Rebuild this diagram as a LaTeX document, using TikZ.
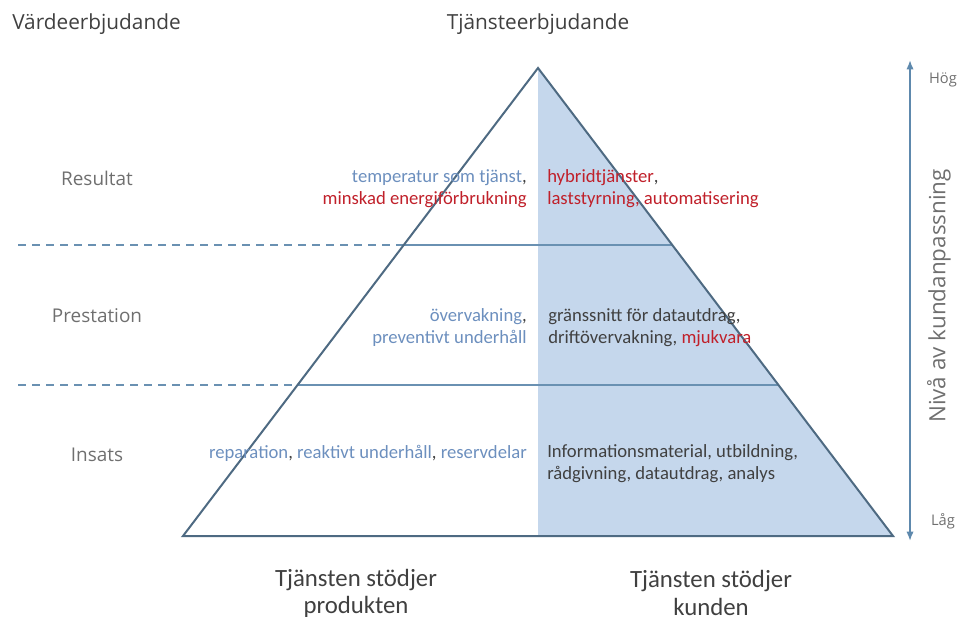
\documentclass[tikz,border=0pt]{standalone}
\usepackage{fontspec}
\setmainfont{Carlito}
\newfontfamily\headfont{Open Sans}
\usetikzlibrary{arrows.meta}
\definecolor{dgray}{HTML}{404040}
\definecolor{lgray}{HTML}{6F6F6F}
\definecolor{tblue}{HTML}{6C8FBE}
\definecolor{tred}{HTML}{C0202A}
\definecolor{fillblue}{HTML}{C5D7EC}
\definecolor{edge}{HTML}{4E6A82}
\definecolor{lineblue}{HTML}{6A91B2}
\definecolor{arrowblue}{HTML}{5E89AD}
\tikzset{
  head/.style={font=\headfont\fontsize{15.6}{18}\selectfont, text=dgray, inner sep=0pt},
  lvl/.style={font=\headfont\fontsize{14.2}{16}\selectfont, text=lgray, inner sep=0pt},
  axislbl/.style={font=\headfont\fontsize{11}{13}\selectfont, text=lgray, inner sep=0pt},
  rotlbl/.style={font=\headfont\fontsize{16.8}{19}\selectfont, text=lgray, inner sep=0pt},
  inner/.style={font=\fontsize{14}{16.5}\selectfont, text=dgray, inner sep=0pt},
  bottom/.style={font=\fontsize{18.6}{20.3}\selectfont, text=dgray, inner sep=0pt, align=center},
  tri/.style={draw=edge, line width=1.5pt, line join=miter},
  band/.style={draw=lineblue, line width=1.8pt},
  dashline/.style={draw=lineblue, line width=1.4pt, dash pattern=on 6pt off 4.5pt},
}
\newcommand{\bl}[1]{\textcolor{tblue}{#1}}
\newcommand{\rd}[1]{\textcolor{tred}{#1}}
\begin{document}
\begin{tikzpicture}[x=0.75pt,y=-0.75pt]
\useasboundingbox (0,0) rectangle (959,621);
% triangle corners
\coordinate (apex) at (538,68);
\coordinate (bl) at (183,536);
\coordinate (br) at (893,536);
\coordinate (bm) at (538,536);
% fill right half
\fill[fillblue] (apex) -- (br) -- (bm) -- cycle;
% band lines
\coordinate (l1) at (403.7,245);
\coordinate (r1) at (672.3,245);
\coordinate (l2) at (297.6,385);
\coordinate (r2) at (778.4,385);
\coordinate (d1) at (18,245);
\coordinate (d2) at (18,385);
\draw[band] (l1) -- (r1);
\draw[band] (l2) -- (r2);
\draw[dashline] (d1) -- (l1);
\draw[dashline] (d2) -- (l2);
\draw[tri] (apex) -- (br) -- (bl) -- cycle;
% axis arrow
\coordinate (atop) at (910,60);
\coordinate (abot) at (910,541);
\draw[arrowblue, line width=1.3pt, {Latex[length=7pt,width=5.5pt]}-{Latex[length=7pt,width=5.5pt]}] (abot) -- (atop);
\node[axislbl] (hog) at (943,80) {Hög};
\node[axislbl] (lag) at (943,521) {Låg};
\node[rotlbl, rotate=90] (niva) at (939,296) {Nivå av kundanpassning};
% headers
\node[head, anchor=west] (varde) at (12,24) {Värdeerbjudande};
\node[head] (tjanst) at (538,24) {Tjänsteerbjudande};
% level labels
\node[lvl] (res) at (97,178) {Resultat};
\node[lvl] (pre) at (97,316) {Prestation};
\node[lvl] (ins) at (97,455) {Insats};
% inner texts
\node[inner, anchor=east, align=right] (t1l) at (527,189) {\bl{temperatur som tjänst},\\\rd{minskad energiförbrukning}};
\node[inner, anchor=west, align=left] (t1r) at (547,189) {\rd{hybridtjänster},\\\rd{laststyrning, automatisering}};
\node[inner, anchor=east, align=right] (t2l) at (527,328) {\bl{övervakning},\\\bl{preventivt underhåll}};
\node[inner, anchor=west, align=left] (t2r) at (548,328) {gränssnitt för datautdrag,\\driftövervakning, \rd{mjukvara}};
\node[inner, anchor=east, align=right] (t3l) at (527,453) {\bl{reparation}, \bl{reaktivt underhåll}, \bl{reservdelar}};
\node[inner, anchor=west, align=left] (t3r) at (547,464) {Informationsmaterial, utbildning,\\rådgivning, datautdrag, analys};
% bottom
\node[bottom] (bprod) at (356,593) {Tjänsten stödjer\\produkten};
\node[bottom] (bkund) at (711,593) {Tjänsten stödjer\\kunden};
\end{tikzpicture}
\end{document}
